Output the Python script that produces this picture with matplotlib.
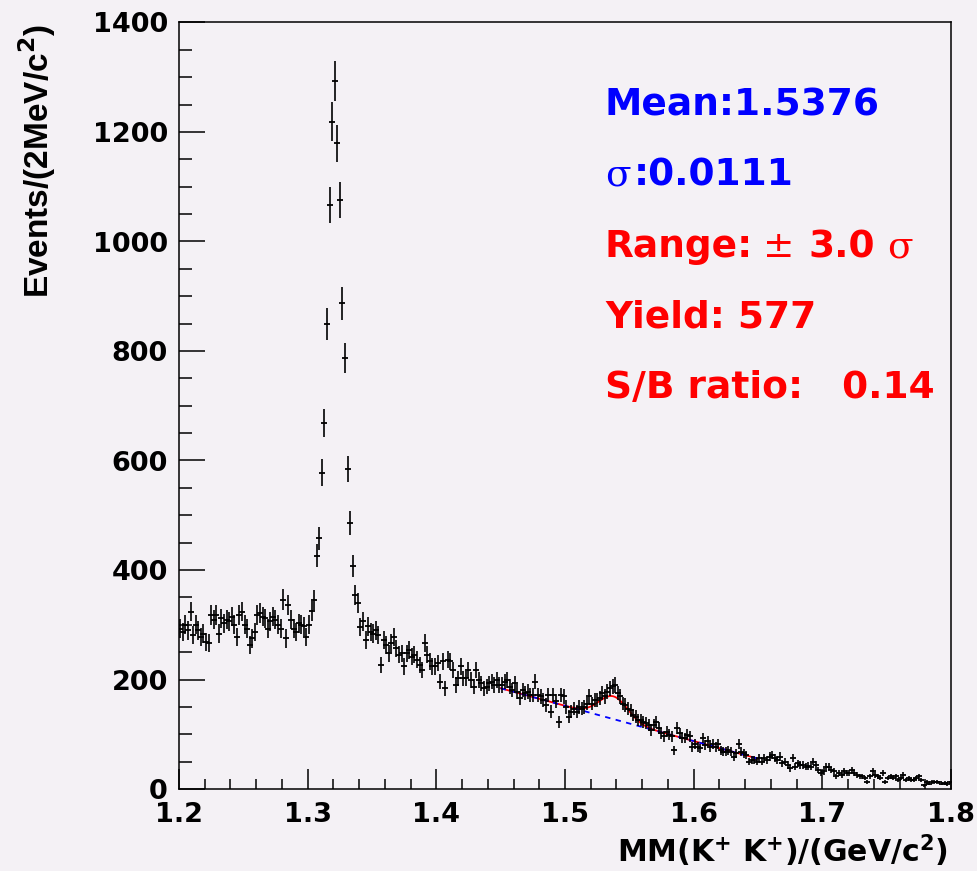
import numpy as np
import matplotlib
matplotlib.use('Agg')
import matplotlib.pyplot as plt
from matplotlib.ticker import MultipleLocator

# missing mass spectrum, 2 MeV bins between 1.2 and 1.8 GeV
mm_lo, mm_hi = 1.2, 1.8
counts_flat = [293, 287, 300, 290, 324, 281, 300, 290, 278, 284,
               269, 266, 318, 309, 318, 284, 312, 303, 309, 306,
               315, 300, 278, 318, 324, 300, 293, 263, 275, 287,
               318, 321, 315, 312, 293, 306, 315, 309, 300, 293,
               346, 275, 336, 309, 293, 287, 303, 300, 297, 278,
               300, 325]
counts_peak = [345, 426, 458, 578, 668, 849, 1067, 1219, 1293, 1179,
               1076, 887, 787, 584, 486, 408, 354]
counts_tail = [339, 296, 306, 272, 297, 287, 284, 290, 281, 226,
               272, 263, 248, 266, 278, 257, 245, 248, 224, 248,
               254, 242, 245, 236, 226, 217, 266, 245, 233, 224,
               224, 230, 196, 233, 184, 236, 233, 217, 190, 202,
               224, 202, 202, 217, 199, 187, 217, 199, 193, 184,
               187, 193, 196, 190, 199, 190]
counts_fit = [190, 196, 199, 187, 181, 193, 178, 166, 181, 175,
              178, 172, 172, 196, 172, 169, 162, 153, 172, 141,
              172, 160, 123, 172, 169, 150, 132, 141, 147, 141,
              150, 147, 150, 156, 169, 156, 162, 162, 166, 175,
              169, 178, 184, 188, 190, 175, 169, 156, 153, 147,
              144, 135, 132, 126, 126, 123, 120, 117, 108, 117,
              123, 111, 102, 96, 105, 99]
counts_high = [96, 71, 111, 102, 93, 93, 99, 96, 77, 83,
               77, 74, 93, 80, 87, 77, 83, 77, 83, 71,
               68, 68, 71, 68, 59, 65, 83, 68, 65, 62,
               50, 53, 53, 50, 56, 50, 56, 53, 59, 62,
               56, 53, 59, 47, 50, 44, 38, 56, 41, 47,
               44, 44, 41, 42]
counts_end = [41, 50, 44, 35, 29, 32, 41, 41, 35, 32,
              23, 29, 26, 32, 29, 29, 35, 29, 26, 23,
              23, 20, 13, 23, 32, 26, 23, 20, 29, 13,
              20, 23, 20, 23, 16, 20, 26, 16, 20, 16,
              16, 20, 23, 16, 7, 13, 10, 13, 13, 13,
              12, 10, 11, 9, 12]

# fit results
fit_lo, fit_hi = 1.45, 1.65
mean, sigma = 1.5376, 0.0111
n_sigma = 3.0
yield_sig = 577
sb_ratio = 0.14
bkg_at_lo = 184.0     # events/bin at fit_lo
bkg_slope = -643.0    # events/bin per GeV

counts = np.array(counts_flat + counts_peak + counts_tail + counts_fit
                  + counts_high + counts_end, dtype=float)
nbins = len(counts)
binw = (mm_hi - mm_lo) / nbins
centers = mm_lo + binw * (np.arange(nbins) + 0.5)

bg_col = '#f4f1f5'
fig = plt.figure(figsize=(9.78, 8.71), dpi=100, facecolor=bg_col)
ax = fig.add_axes([179 / 978, 82 / 871, 772 / 978, 766.5 / 871])
ax.set_facecolor(bg_col)

# fit curves: total (red) and background only (blue dashed)
xf = np.linspace(fit_lo, fit_hi, 400)
bkg = bkg_at_lo + bkg_slope * (xf - fit_lo)
amp = yield_sig / 0.9973 * binw / (np.sqrt(2 * np.pi) * sigma)
tot = bkg + amp * np.exp(-0.5 * ((xf - mean) / sigma) ** 2)
ax.plot(xf, tot, color='red', lw=1.3, zorder=3)
ax.plot(xf, bkg, color='blue', lw=1.3, ls=(0, (3, 3)), zorder=4)

ax.errorbar(centers, counts, yerr=np.sqrt(counts), fmt='_', ms=4.5, mew=1.3,
            color='black', ecolor='black', elinewidth=1.2, capsize=0, zorder=5)

ax.set_xlim(mm_lo, mm_hi)
ax.set_ylim(0, 1400)
ax.xaxis.set_major_locator(MultipleLocator(0.1))
ax.xaxis.set_minor_locator(MultipleLocator(0.02))
ax.yaxis.set_major_locator(MultipleLocator(200))
ax.yaxis.set_minor_locator(MultipleLocator(50))
ax.set_xticks(np.arange(1.2, 1.81, 0.1))
ax.set_xticklabels(['1.2', '1.3', '1.4', '1.5', '1.6', '1.7', '1.8'])
ax.tick_params(axis='both', which='both', direction='in', width=1.1,
               labelsize=19.5, pad=8, top=False, right=False)
ax.tick_params(axis='y', which='major', length=18.5)
ax.tick_params(axis='y', which='minor', length=9.3)
ax.tick_params(axis='x', which='major', length=14.5, pad=9)
ax.tick_params(axis='x', which='minor', length=7.2)
for lab in ax.get_xticklabels() + ax.get_yticklabels():
    lab.set_fontweight('bold')
for sp in ax.spines.values():
    sp.set_linewidth(1.1)

fig.text(948 / 978, 1 - 862 / 871, r'MM(K$^{\mathbf{+}}$ K$^{\mathbf{+}}$)/(GeV/c$^{\mathbf{2}}$)',
         ha='right', va='baseline', fontsize=21.5, fontweight='bold')
fig.text(37 / 978, 1 - 24 / 871, r'Events/(2MeV/c$^{\mathbf{2}}$)', rotation=90,
         ha='center', va='top', fontsize=24, fontweight='bold', family='Liberation Sans')

# fit summary, written piece by piece so the greek letters get a serif face
renderer = fig.canvas.get_renderer()


def put_line(y, parts, color):
    x = 605
    for s, fam, wt, gap in parts:
        t = fig.text(x / 978, y, s, color=color, fontsize=27, family=fam,
                     weight=wt, ha='left', va='baseline')
        x = t.get_window_extent(renderer).x1 + gap


def ypix(v):
    return 1 - v / 871


sans, serif = 'DejaVu Sans', 'DejaVu Serif'
put_line(ypix(115), [('Mean:%.4f' % mean, sans, 'bold', 0)], 'blue')
put_line(ypix(185), [('σ', serif, 'normal', 3), (':%.4f' % sigma, sans, 'bold', 0)], 'blue')
put_line(ypix(257), [('Range:', sans, 'bold', 10), ('±', serif, 'normal', 14),
                     ('%.1f' % n_sigma, sans, 'bold', 12), ('σ', serif, 'normal', 0)], 'red')
put_line(ypix(328), [('Yield: %d' % yield_sig, sans, 'bold', 0)], 'red')
put_line(ypix(398), [('S/B ratio:   %.2f' % sb_ratio, sans, 'bold', 0)], 'red')

fig.savefig('out.png', dpi=100, facecolor=bg_col)
